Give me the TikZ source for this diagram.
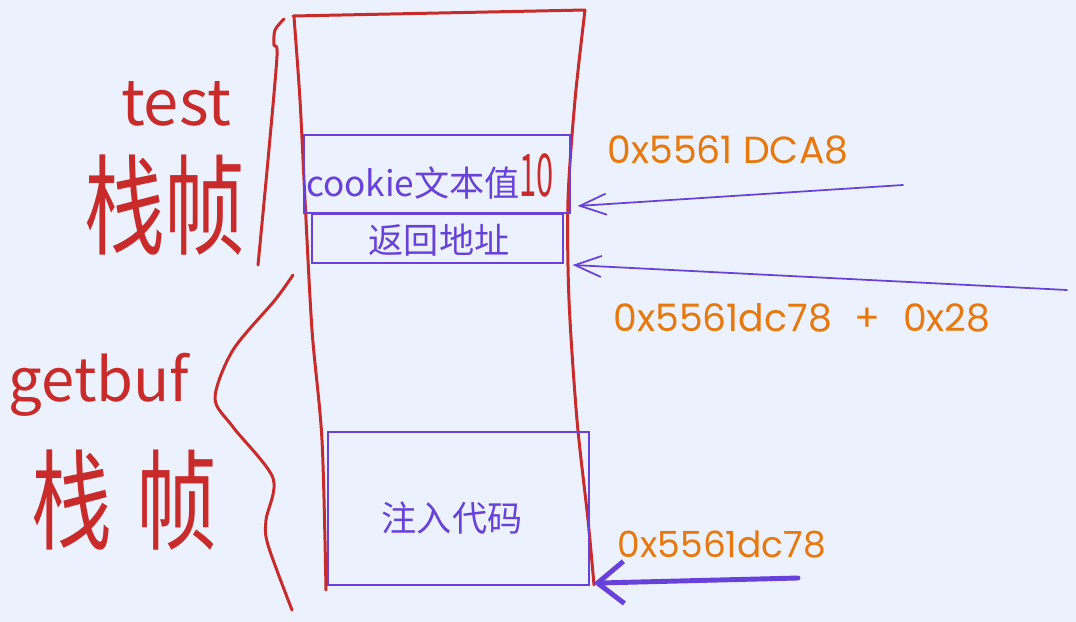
\documentclass[tikz,border=0pt]{standalone}
\usepackage{fontspec}
\setmainfont{Noto Sans CJK SC}
\newfontfamily\hexfont{Poppins}
\usetikzlibrary{arrows.meta}
\definecolor{bg}{HTML}{EBF2FD}
\definecolor{redink}{HTML}{C92A2A}
\definecolor{purp}{HTML}{6741D9}
\definecolor{orng}{HTML}{E8770C}
\begin{document}
\begin{tikzpicture}[x=0.02cm,y=-0.02cm,
  redline/.style={draw=redink, line width=1.7pt, line cap=round, line join=round},
  stackbox/.style={draw=purp, line width=0.75pt, inner sep=0pt},
  boxtext/.style={text=purp, font=\fontsize{20}{24}\selectfont, inner sep=0pt},
  ptr/.style={draw=purp, line width=1pt, line cap=round, -{Straight Barb[length=15pt,width=12pt,line width=1pt]}},
  bigptr/.style={draw=purp, line width=2.8pt, line cap=round, -{Straight Barb[length=15pt,width=24pt,line width=2.8pt]}},
  hexlabel/.style={text=orng, font=\hexfont\fontsize{21.5}{24}\selectfont, inner sep=0pt},
  handtext/.style={text=redink, inner sep=0pt}
]
\fill[bg] (0,0) rectangle (1076,622);
\useasboundingbox (0,0) rectangle (1076,622);

% red stack outline
\draw[redline] (293,16) -- (585,10);
\draw[redline] plot[smooth] coordinates {(294,17) (300,100) (305,200) (312,330) (322,440) (326,590)};
\draw[redline] plot[smooth] coordinates {(585,10) (575,100) (568,200) (569,300) (577,420) (588,520) (594,585)};

% braces
\draw[redline] plot[smooth] coordinates {(284,19) (275,30) (274,45) (277,56) (268,160) (258,265)};
\draw[redline] plot[smooth] coordinates {(293,275) (275,300) (233,350) (215,398) (233,427) (273,478) (266,520) (268,545) (292,610)};

% boxes
\node[stackbox, minimum width=5.32cm, minimum height=1.56cm] (cookie) at (437,174) {};
\node[boxtext] (cookietxt) at (430,176)
  {cookie文本值\textcolor{redink}{\scalebox{0.55}[1.05]{\fontsize{32}{36}\selectfont 10}}};
\node[stackbox, minimum width=5.02cm, minimum height=0.98cm] (ret) at (437.5,238.5) {};
\node[boxtext] (rettxt) at (439,240) {返回地址};
\node[stackbox, minimum width=5.22cm, minimum height=3.06cm] (inject) at (458.5,508.5) {};
\node[boxtext] (injecttxt) at (452,518) {注入代码};

% handwritten labels
\node[handtext, font=\fontsize{36}{40}\selectfont] (test) at (176,104) {test};
\node[handtext, font=\fontsize{46}{50}\selectfont] (testframe) at (165,205) {\scalebox{1}[1.35]{栈帧}};
\node[handtext, font=\fontsize{34}{38}\selectfont] (getbuf) at (99,385) {getbuf};
\node[handtext, font=\fontsize{46}{50}\selectfont] (getbufframe) at (124,500) {\scalebox{1}[1.35]{栈\hspace{0.3em}帧}};

% addresses
\node[hexlabel] (a1) at (728,150) {0x5561 DCA8};
\node[hexlabel] (a2) at (802,318) {0x5561dc78\hspace{0.6em}+\hspace{0.6em}0x28};
\node[hexlabel, font=\hexfont\fontsize{20.5}{24}\selectfont] (a3) at (722,545) {0x5561dc78};

% pointers
\coordinate (s1) at (903,185);
\coordinate (s2) at (1067,290);
\coordinate (s3) at (798,578);
\draw[ptr] (s1) -- ([xshift=0.14cm,yshift=-0.64cm]cookie.east);
\draw[ptr] (s2) -- ([xshift=0.18cm,yshift=-0.53cm]ret.east);
\draw[bigptr] (s3) -- ([xshift=0.08cm,yshift=0.05cm]inject.south east);
\end{tikzpicture}
\end{document}
